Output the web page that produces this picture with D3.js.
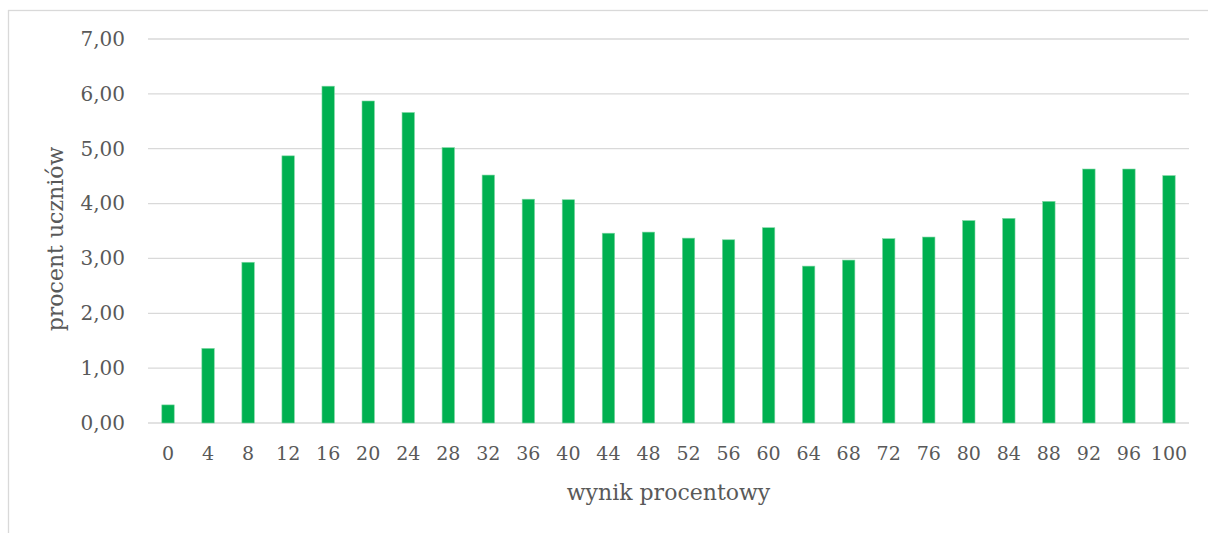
<!doctype html>
<html>
<head>
<meta charset="utf-8">
<title>wynik procentowy</title>
<script src="https://cdn.jsdelivr.net/npm/d3@7"></script>
<style>
  html, body { margin: 0; padding: 0; background: #fff; }
  svg text { font-family: "DejaVu Serif", "Liberation Serif", serif; fill: #595959; }
</style>
</head>
<body>
<div id="chart"></div>
<script>
// data
const categories = ["0", "4", "8", "12", "16", "20", "24", "28", "32", "36", "40", "44", "48",
                    "52", "56", "60", "64", "68", "72", "76", "80", "84", "88", "92", "96", "100"];
const values = [0.33, 1.36, 2.93, 4.87, 6.14, 5.87, 5.66, 5.02, 4.52, 4.08, 4.07, 3.46, 3.48,
                3.37, 3.34, 3.56, 2.86, 2.97, 3.36, 3.39, 3.69, 3.73, 4.04, 4.63, 4.63, 4.51];
const yTicks = [0, 1, 2, 3, 4, 5, 6, 7];
const xTitle = "wynik procentowy";
const yTitle = "procent uczniów";

const W = 1208, H = 533;
const margin = {top: 39, right: 19, bottom: 110, left: 148};
const width = W - margin.left - margin.right;
const height = H - margin.top - margin.bottom;

const svg = d3.select("#chart").append("svg")
    .attr("width", W)
    .attr("height", H);

// chart frame
svg.append("rect")
    .attr("x", 8.5).attr("y", 10.5)
    .attr("width", W).attr("height", H)
    .attr("fill", "none")
    .attr("stroke", "#d9d9d9")
    .attr("stroke-width", 1.3);

const g = svg.append("g")
    .attr("transform", `translate(${margin.left},${margin.top})`);

const x = d3.scaleBand().domain(categories).range([0, width]).paddingInner(0.69).paddingOuter(0.345);
const y = d3.scaleLinear().domain([0, 7]).range([height, 0]);

const fmt = v => d3.format(".2f")(v).replace(".", ",");

// gridlines
g.append("g")
  .selectAll("line")
  .data(yTicks)
  .join("line")
    .attr("x1", 0).attr("x2", width)
    .attr("y1", d => y(d)).attr("y2", d => y(d))
    .attr("stroke", "#d9d9d9")
    .attr("stroke-width", 1.3);

// y axis labels
const yAxis = g.append("g")
    .call(d3.axisLeft(y).tickValues(yTicks).tickFormat(fmt).tickSize(0).tickPadding(23));
yAxis.select(".domain").remove();
yAxis.selectAll("text")
    .style("font-size", "20px")
    .style("font-family", "\"DejaVu Serif\", serif")
    .attr("fill", "#595959");

// bars
g.append("g")
  .selectAll("rect")
  .data(values)
  .join("rect")
    .attr("x", (d, i) => x(categories[i]))
    .attr("y", d => y(d))
    .attr("width", x.bandwidth())
    .attr("height", d => y(0) - y(d))
    .attr("fill", "#00b050")
    .attr("stroke", "#7fd7a4")
    .attr("stroke-width", 0.6);

// x axis labels
const xAxis = g.append("g")
    .attr("transform", `translate(0,${height})`)
    .call(d3.axisBottom(x).tickSize(0).tickPadding(24));
xAxis.select(".domain").remove();
xAxis.selectAll("text")
    .style("font-size", "19px")
    .style("font-family", "\"DejaVu Serif\", serif")
    .attr("fill", "#595959");

// axis titles
svg.append("text")
    .attr("x", margin.left + width / 2)
    .attr("y", 500)
    .attr("text-anchor", "middle")
    .style("font-size", "22px")
    .text(xTitle);

svg.append("text")
    .attr("transform", "translate(63,239) rotate(-90)")
    .attr("text-anchor", "middle")
    .style("font-size", "22px")
    .text(yTitle);
</script>
</body>
</html>
